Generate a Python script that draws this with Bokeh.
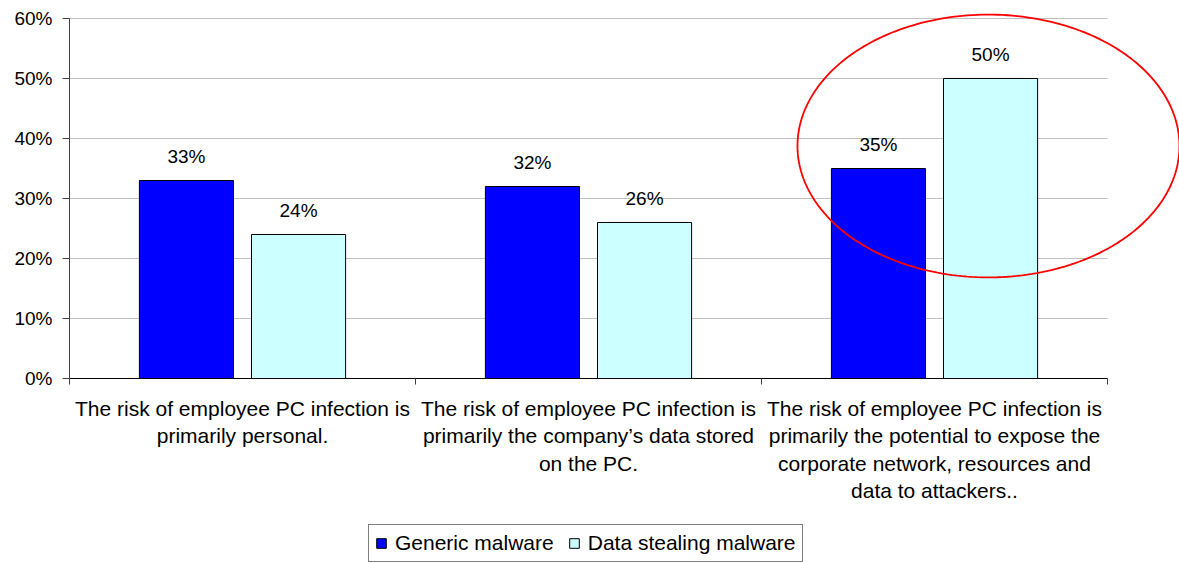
import numpy as np
from bokeh.plotting import figure
from bokeh.layouts import column
from bokeh.models import (ColumnDataSource, Range1d, FixedTicker, NumeralTickFormatter,
                          Legend, LegendItem)
from bokeh.transform import dodge
from bokeh.core.properties import value
from bokeh.embed import file_html
from bokeh.resources import INLINE

# ---------------- data ----------------
categories = [
    "The risk of employee PC infection is\nprimarily personal.",
    "The risk of employee PC infection is\nprimarily the company\u2019s data stored\non the PC.",
    "The risk of employee PC infection is\nprimarily the potential to expose the\ncorporate network, resources and\ndata to attackers..",
]
series_names = ["Generic malware", "Data stealing malware"]
generic = [0.33, 0.32, 0.35]
stealing = [0.24, 0.26, 0.50]
y_ticks = [0.0, 0.1, 0.2, 0.3, 0.4, 0.5, 0.6]
# highlight ellipse around third category (center x, center y, half-width, half-height in data units)
highlight = dict(cx=2.656, cy=0.3875, rx=0.552, ry=0.219)

FONT = "Liberation Sans"
colors = ["#0000FF", "#CCFFFF"]
n = len(categories)

centers = [i + 0.5 for i in range(n)]
src = ColumnDataSource(dict(
    x=centers,
    generic=generic,
    stealing=stealing,
    generic_lbl=[f"{round(v*100)}%" for v in generic],
    stealing_lbl=[f"{round(v*100)}%" for v in stealing],
))

# frame extends right to the canvas edge and slightly above 60% so the highlight ellipse is not clipped
p = figure(width=1179, height=520, output_backend="svg", toolbar_location=None,
           x_range=Range1d(0, 1110 / 346), y_range=Range1d(0, 0.61),
           min_border_left=69, min_border_right=0, min_border_top=12, min_border_bottom=142)
p.title.visible = False
p.outline_line_color = None
p.background_fill_color = "white"
p.border_fill_color = "white"
p.xgrid.visible = False
p.ygrid.visible = False

# horizontal gridlines limited to the category span
grid_y = y_ticks[1:]
p.segment(x0=[0] * len(grid_y), x1=[n] * len(grid_y), y0=grid_y, y1=grid_y,
          line_color="#C0C0C0", line_width=1)

off = 0.162
bw = 0.272
bar_styles = [dict(fill_color=colors[0], line_color="black", line_width=1),
              dict(fill_color=colors[1], line_color="black", line_width=1)]
p.vbar(x=dodge("x", -off, range=p.x_range), top="generic", width=bw, source=src, **bar_styles[0])
p.vbar(x=dodge("x", off, range=p.x_range), top="stealing", width=bw, source=src, **bar_styles[1])

for col, lbl, o in (("generic", "generic_lbl", -off), ("stealing", "stealing_lbl", off)):
    p.text(x=dodge("x", o, range=p.x_range), y=col, text=lbl, source=src,
           text_align="center", text_baseline="alphabetic", y_offset=-24,
           text_font=value(FONT), text_font_size="19px", text_color="#000000")

# y axis
p.yaxis.bounds = (0, 0.6)
p.yaxis.ticker = FixedTicker(ticks=y_ticks)
p.yaxis.formatter = NumeralTickFormatter(format="0%")
p.yaxis.minor_tick_line_color = None
p.yaxis.major_tick_out = 7
p.yaxis.major_tick_in = 0
p.yaxis.major_label_standoff = 10
p.yaxis.axis_line_color = "#404040"
p.yaxis.major_tick_line_color = "#404040"
p.yaxis.major_label_text_font = FONT
p.yaxis.major_label_text_font_size = "19px"
p.yaxis.major_label_text_color = "#000000"

# x axis: labels at centers, tick marks at category boundaries
p.xaxis.bounds = (0, n)
p.xaxis.ticker = FixedTicker(ticks=centers, minor_ticks=list(range(n + 1)))
p.xaxis.major_label_overrides = {c: t for c, t in zip(centers, categories)}
p.xaxis.major_tick_out = 0
p.xaxis.major_tick_in = 0
p.xaxis.minor_tick_out = 6
p.xaxis.minor_tick_in = 0
p.xaxis.minor_tick_line_color = "#404040"
p.xaxis.axis_line_color = "#000000"
p.xaxis.major_label_standoff = 12
p.xaxis.major_label_text_font = FONT
p.xaxis.major_label_text_font_size = "21px"
p.xaxis.major_label_text_line_height = 1.2
p.xaxis.major_label_text_color = "#000000"
p.xaxis.major_label_text_align = "center"

# highlight ellipse
t = np.linspace(0, 2 * np.pi, 240)
ex = highlight["cx"] + highlight["rx"] * np.cos(t)
ey = highlight["cy"] + highlight["ry"] * np.sin(t)
p.line(x=ex, y=ey, line_color="#FF0000", line_width=1.8)

# legend strip underneath (separate canvas so the legend is not clipped by the plot frame)
lf = figure(width=1179, height=43, output_backend="svg", toolbar_location=None,
            x_range=Range1d(0, 1), y_range=Range1d(0, 1),
            min_border_left=0, min_border_right=0, min_border_top=0, min_border_bottom=0)
lf.title.visible = False
lf.axis.visible = False
lf.grid.visible = False
lf.outline_line_color = None
lf.background_fill_color = "white"
lf.border_fill_color = "white"
# key swatches only (placed outside the visible range so that only the legend shows them)
key_renderers = [lf.vbar(x=[-5], top=[0], width=0.01, **s) for s in bar_styles]
legend = Legend(items=[LegendItem(label=nm, renderers=[r]) for nm, r in zip(series_names, key_renderers)],
                orientation="horizontal", location=(299, 1),
                label_text_font=FONT, label_text_font_size="21px", label_text_color="#000000",
                glyph_width=12, glyph_height=12, label_standoff=8, spacing=14,
                padding=6, margin=0, border_line_color="black", border_line_width=1,
                background_fill_color="white", background_fill_alpha=1,
                label_height=20)
lf.add_layout(legend, "center")

layout = column(p, lf, spacing=0)
open("out.html", "w").write(file_html(layout, INLINE))
